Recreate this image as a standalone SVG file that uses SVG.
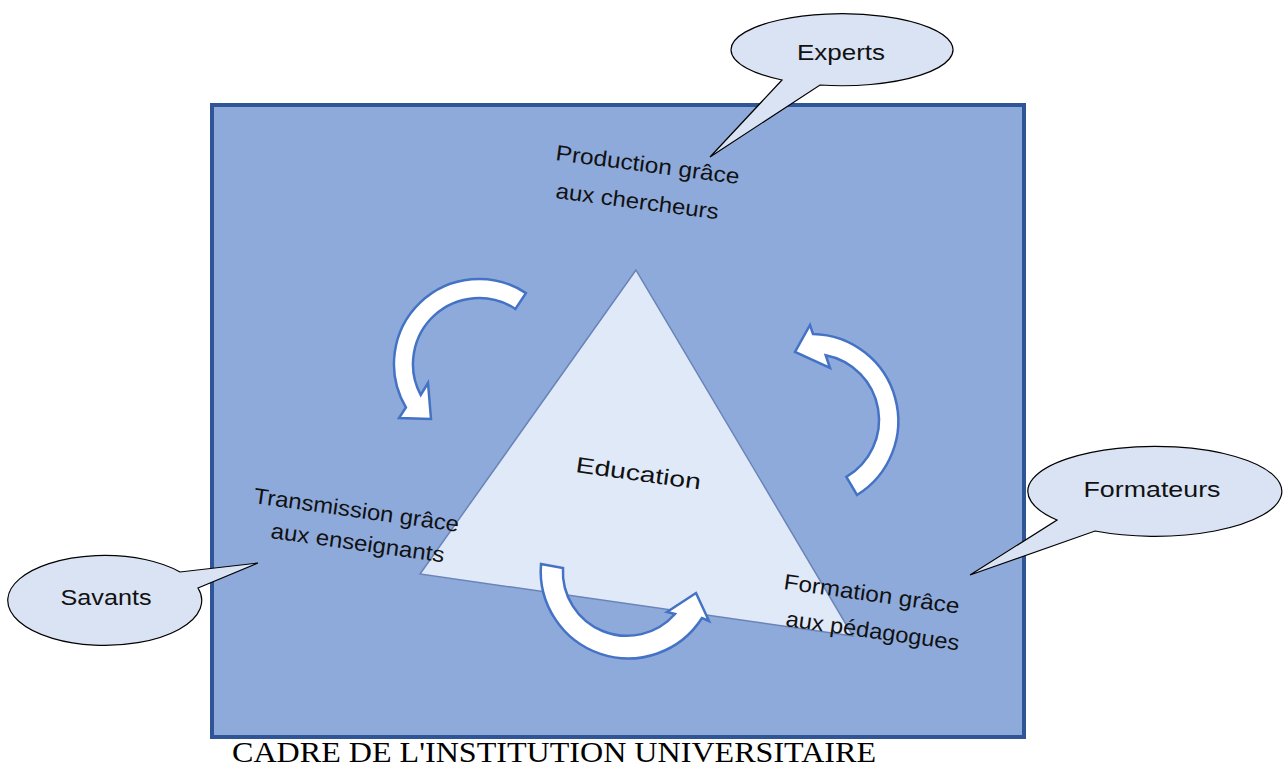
<svg xmlns="http://www.w3.org/2000/svg" width="1288" height="769" viewBox="0 0 1288 769">
<style>
.lbl{font-family:"Liberation Sans",Arial,sans-serif;font-size:22px;fill:#111}
.arr{fill:#ffffff;stroke:#4472c4;stroke-width:2.5;stroke-linejoin:miter}
.call{fill:#dae3f3;stroke:#000;stroke-width:1.2}
</style>
<rect width="1288" height="769" fill="#ffffff"/>
<g id="frame">
<rect x="212" y="105" width="812" height="632" fill="#8eaadb" stroke="#2f5597" stroke-width="4"/>
</g>
<g id="triangle">
<polygon points="636,270 420,574 853,636" fill="#e0e9f8" stroke="#6a84b8" stroke-width="1.5"/>
<text class="lbl" font-size="25" transform="translate(575,472) rotate(8)" textLength="126" lengthAdjust="spacingAndGlyphs">Education</text>
</g>
<g id="connectors">
<path class="arr" d="M525.9,293.1 A85,85 0 0 0 405.9,407.4 L399,418 L431,419 L428,383 L420.7,395 A66,66 0 0 1 515.4,309 Z"/>
<path class="arr" d="M857,495 A87,87 0 0 0 813,334 L810,325 L795,352 L830,368 L825.7,355.2 A66,66 0 0 1 846.4,476.9 Z"/>
<path class="arr" d="M541,564 A87.5,87.5 0 0 0 702,618 L709,621 L696,593 L667,612 L675,614 A64,64 0 0 1 563,568 Z"/>
</g>
<g id="production">
<text class="lbl" transform="translate(555,160) rotate(7.5)" textLength="185" lengthAdjust="spacingAndGlyphs">Production grâce</text>
<text class="lbl" transform="translate(555,198) rotate(7.5)" textLength="164" lengthAdjust="spacingAndGlyphs">aux chercheurs</text>
</g>
<g id="transmission">
<text class="lbl" transform="translate(253,503) rotate(8)" textLength="207" lengthAdjust="spacingAndGlyphs">Transmission grâce</text>
<text class="lbl" transform="translate(270,538) rotate(8)" textLength="175" lengthAdjust="spacingAndGlyphs">aux enseignants</text>
</g>
<g id="formation">
<text class="lbl" transform="translate(783,589) rotate(8)" textLength="177" lengthAdjust="spacingAndGlyphs">Formation grâce</text>
<text class="lbl" transform="translate(785,626) rotate(8)" textLength="175" lengthAdjust="spacingAndGlyphs">aux pédagogues</text>
</g>
<g id="experts">
<path class="call" d="M782,80 A111,36 0 1 1 820,85 L710,157 Z"/>
<text class="lbl" x="841" y="60" text-anchor="middle" textLength="88" lengthAdjust="spacingAndGlyphs">Experts</text>
</g>
<g id="savants">
<path class="call" d="M198,588 A97,45 0 1 1 180,572 L258,563 Z"/>
<text class="lbl" x="106" y="605" text-anchor="middle" textLength="91" lengthAdjust="spacingAndGlyphs">Savants</text>
</g>
<g id="formateurs">
<path class="call" d="M1057,520 A127,45 0 1 1 1095,531 L970,575 Z"/>
<text class="lbl" x="1152" y="497" text-anchor="middle" textLength="137" lengthAdjust="spacingAndGlyphs">Formateurs</text>
</g>
<g id="caption">
<text x="232" y="762" font-family="'Liberation Serif','Times New Roman',serif" font-size="29" fill="#000" textLength="644" lengthAdjust="spacingAndGlyphs">CADRE DE L'INSTITUTION UNIVERSITAIRE</text>
</g>
</svg>
